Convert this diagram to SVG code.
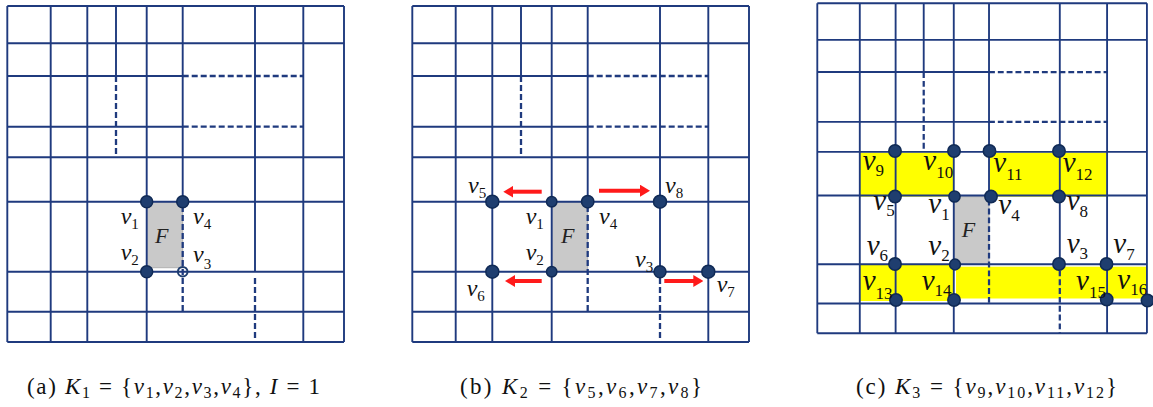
<svg xmlns="http://www.w3.org/2000/svg" xmlns:xlink="http://www.w3.org/1999/xlink" width="1153" height="407" viewBox="0 0 1153 407">
<style>
.g{fill:none;stroke:#1f3a7e;stroke-width:1.9}
.d{fill:none;stroke:#1f3a7e;stroke-width:2.3;stroke-dasharray:6 3}
.nd{fill:#1f3e6f;stroke:#102a55;stroke-width:1.5}
.ho{fill:none;stroke:#1f3e6f;stroke-width:2}
.fr{fill:#c9c9c9;stroke:#b0b0b0;stroke-width:1}
.y{fill:#ffff00}
.ar{stroke:#ff1a1a;stroke-width:4;fill:none}
.lv{font-family:"Liberation Serif",serif;font-style:italic;font-size:24px;fill:#111}
.lc{font-family:"Liberation Serif",serif;font-style:italic;font-size:29px;fill:#111}
.sb{font-style:normal;font-size:15px}
.sc{font-style:normal;font-size:17px}
.F{font-family:"Liberation Serif",serif;font-style:italic;font-size:22px;fill:#222}
.cap{font-family:"Liberation Serif",serif;font-size:23px;fill:#111}
.i{font-style:italic}
.cs{font-size:16px}
</style>
<defs>
<marker id="ah" markerWidth="10" markerHeight="12" refX="3" refY="6" orient="auto" markerUnits="userSpaceOnUse"><path d="M0,0 L10,6 L0,12 z" fill="#ff1a1a"/></marker>
<g id="grid">
<path class="g" d="M7.3 6H344M7.3 43.3H344M7.3 76H182.7M7.3 126.7H182.7M7.3 157.3H344M7.3 201.7H344M7.3 271.7H344M7.3 311.7H344M7.3 342H344M7.3 6V342M50.7 6V342M87.3 6V342M116 6V76M146.7 6V342M182.7 6V201.7M255 6V271.7M303.3 6V342M344 6V342"/>
<path class="d" d="M182.7 76H303.3M182.7 126.7H303.3M116 76V157.3M182.7 206V311.7M255 278V342"/>
</g>
</defs>

<!-- fills -->
<g id="fills">
<rect class="fr" x="146.7" y="201.7" width="36" height="66"/>
<rect class="fr" x="551.7" y="201.7" width="36" height="70"/>
<rect class="y" x="860" y="152.7" width="94" height="44"/>
<rect class="y" x="990" y="152.7" width="116.7" height="44"/>
<rect class="y" x="860" y="264" width="94" height="37"/>
<rect class="y" x="956" y="266.7" width="191" height="31.8"/>
<rect class="fr" x="954" y="196.7" width="35" height="67.3"/>
</g>

<!-- connectors: grid edges and arrows -->
<g id="connectors">
<use xlink:href="#grid"/>
<use xlink:href="#grid" transform="translate(405,0)"/>
<use xlink:href="#grid" transform="translate(817.3,3.3) scale(0.979,0.982) translate(-7.3,-6)"/>
<line class="ar" x1="541.7" y1="191.7" x2="510.3" y2="191.7" marker-end="url(#ah)"/>
<line class="ar" x1="599" y1="190.7" x2="643" y2="190.7" marker-end="url(#ah)"/>
<line class="ar" x1="541.7" y1="281" x2="512" y2="281" marker-end="url(#ah)"/>
<line class="ar" x1="664.3" y1="281" x2="696.3" y2="281" marker-end="url(#ah)"/>
</g>

<!-- panel a -->
<g id="a-F"><text class="F" x="155" y="243">F</text></g>
<g id="a-v1"><circle class="nd" cx="146.7" cy="201.7" r="6"/><text class="lv" x="120.7" y="224">v<tspan class="sb" dy="5">1</tspan></text></g>
<g id="a-v4"><circle class="nd" cx="182.7" cy="201.7" r="6"/><text class="lv" x="193" y="224">v<tspan class="sb" dy="5">4</tspan></text></g>
<g id="a-v2"><circle class="nd" cx="146.7" cy="271.7" r="6"/><text class="lv" x="120.7" y="260">v<tspan class="sb" dy="5">2</tspan></text></g>
<g id="a-v3"><circle class="ho" cx="182.7" cy="271.7" r="4.8"/><text class="lv" x="193" y="262">v<tspan class="sb" dy="7">3</tspan></text></g>

<!-- panel b -->
<g id="b-F"><text class="F" x="561" y="243">F</text></g>
<g id="b-v5"><circle class="nd" cx="492.3" cy="201.7" r="6.5"/><text class="lv" x="468" y="193">v<tspan class="sb" dy="5">5</tspan></text></g>
<g id="b-v1"><circle class="nd" cx="551.7" cy="201.7" r="5.2"/><text class="lv" x="525.7" y="224">v<tspan class="sb" dy="5">1</tspan></text></g>
<g id="b-v4"><circle class="nd" cx="587.7" cy="201.7" r="6.2"/><text class="lv" x="599" y="224">v<tspan class="sb" dy="5">4</tspan></text></g>
<g id="b-v8"><circle class="nd" cx="660" cy="201.7" r="6.5"/><text class="lv" x="665" y="193">v<tspan class="sb" dy="5">8</tspan></text></g>
<g id="b-v6"><circle class="nd" cx="492.3" cy="271.7" r="6.5"/><text class="lv" x="466.7" y="296">v<tspan class="sb" dy="5">6</tspan></text></g>
<g id="b-v2"><circle class="nd" cx="551.7" cy="271.7" r="5.2"/><text class="lv" x="525.7" y="260">v<tspan class="sb" dy="5">2</tspan></text></g>
<g id="b-v3"><circle class="nd" cx="660" cy="271.7" r="6"/><text class="lv" x="635" y="267">v<tspan class="sb" dy="5">3</tspan></text></g>
<g id="b-v7"><circle class="nd" cx="708.3" cy="271.7" r="6.5"/><text class="lv" x="716.7" y="292">v<tspan class="sb" dy="5">7</tspan></text></g>

<!-- panel c -->
<g id="c-F"><text class="F" x="961.7" y="237">F</text></g>
<g id="c-n1"><circle class="nd" cx="895" cy="151" r="6.2"/></g>
<g id="c-n2"><circle class="nd" cx="954" cy="151" r="6.2"/></g>
<g id="c-n3"><circle class="nd" cx="989.5" cy="151" r="6.2"/></g>
<g id="c-n4"><circle class="nd" cx="1059" cy="151" r="6.2"/></g>
<g id="c-v9"><text class="lc" x="862.7" y="170">v<tspan class="sc" dy="6">9</tspan></text></g>
<g id="c-v10"><text class="lc" x="923.3" y="170">v<tspan class="sc" dy="8">10</tspan></text></g>
<g id="c-v11"><text class="lc" x="993.3" y="172">v<tspan class="sc" dy="8">11</tspan></text></g>
<g id="c-v12"><text class="lc" x="1062.7" y="172">v<tspan class="sc" dy="8">12</tspan></text></g>
<g id="c-v5"><circle class="nd" cx="895" cy="196.5" r="6.2"/><text class="lc" x="873.3" y="210">v<tspan class="sc" dy="6">5</tspan></text></g>
<g id="c-v1"><circle class="nd" cx="954.5" cy="196.5" r="5.6"/><text class="lc" x="928.3" y="213">v<tspan class="sc" dy="7">1</tspan></text></g>
<g id="c-v4"><circle class="nd" cx="991" cy="196.5" r="6.2"/><text class="lc" x="998.3" y="214">v<tspan class="sc" dy="7">4</tspan></text></g>
<g id="c-v8"><circle class="nd" cx="1059" cy="196.5" r="6.2"/><text class="lc" x="1066.7" y="210">v<tspan class="sc" dy="7">8</tspan></text></g>
<g id="c-v6"><circle class="nd" cx="895" cy="264" r="6.2"/><text class="lc" x="866.7" y="255">v<tspan class="sc" dy="6">6</tspan></text></g>
<g id="c-v2"><circle class="nd" cx="955" cy="264.5" r="5.4"/><text class="lc" x="928.3" y="255">v<tspan class="sc" dy="6">2</tspan></text></g>
<g id="c-v3"><circle class="nd" cx="1059" cy="264" r="6.2"/><text class="lc" x="1066.7" y="253">v<tspan class="sc" dy="6">3</tspan></text></g>
<g id="c-v7"><circle class="nd" cx="1106.5" cy="264" r="6.2"/><text class="lc" x="1113.3" y="253">v<tspan class="sc" dy="7">7</tspan></text></g>
<g id="c-v13"><circle class="nd" cx="896" cy="300" r="6.2"/><text class="lc" x="862.7" y="290">v<tspan class="sc" dy="9">13</tspan></text></g>
<g id="c-v14"><circle class="nd" cx="954" cy="300" r="6.2"/><text class="lc" x="921.7" y="290">v<tspan class="sc" dy="6">14</tspan></text></g>
<g id="c-v15"><circle class="nd" cx="1106.7" cy="299.5" r="6.2"/><text class="lc" x="1076" y="290">v<tspan class="sc" dy="8">15</tspan></text></g>
<g id="c-v16"><circle class="nd" cx="1147.5" cy="300.5" r="6.2"/><text class="lc" x="1117.3" y="289">v<tspan class="sc" dy="6">16</tspan></text></g>

<!-- captions -->
<g id="captions">
<text class="cap" x="27" y="394" textLength="293" lengthAdjust="spacing">(a) <tspan class="i">K</tspan><tspan class="cs" dy="4">1</tspan><tspan dy="-4"> = {</tspan><tspan class="i">v</tspan><tspan class="cs" dy="4">1</tspan><tspan dy="-4">,</tspan><tspan class="i">v</tspan><tspan class="cs" dy="4">2</tspan><tspan dy="-4">,</tspan><tspan class="i">v</tspan><tspan class="cs" dy="4">3</tspan><tspan dy="-4">,</tspan><tspan class="i">v</tspan><tspan class="cs" dy="4">4</tspan><tspan dy="-4">}, </tspan><tspan class="i">I</tspan> = 1</text>
<text class="cap" x="460" y="394" textLength="242" lengthAdjust="spacing">(b) <tspan class="i">K</tspan><tspan class="cs" dy="4">2</tspan><tspan dy="-4"> = {</tspan><tspan class="i">v</tspan><tspan class="cs" dy="4">5</tspan><tspan dy="-4">,</tspan><tspan class="i">v</tspan><tspan class="cs" dy="4">6</tspan><tspan dy="-4">,</tspan><tspan class="i">v</tspan><tspan class="cs" dy="4">7</tspan><tspan dy="-4">,</tspan><tspan class="i">v</tspan><tspan class="cs" dy="4">8</tspan><tspan dy="-4">}</tspan></text>
<text class="cap" x="856" y="394" textLength="261" lengthAdjust="spacing">(c) <tspan class="i">K</tspan><tspan class="cs" dy="4">3</tspan><tspan dy="-4"> = {</tspan><tspan class="i">v</tspan><tspan class="cs" dy="4">9</tspan><tspan dy="-4">,</tspan><tspan class="i">v</tspan><tspan class="cs" dy="4">10</tspan><tspan dy="-4">,</tspan><tspan class="i">v</tspan><tspan class="cs" dy="4">11</tspan><tspan dy="-4">,</tspan><tspan class="i">v</tspan><tspan class="cs" dy="4">12</tspan><tspan dy="-4">}</tspan></text>
</g>
</svg>
